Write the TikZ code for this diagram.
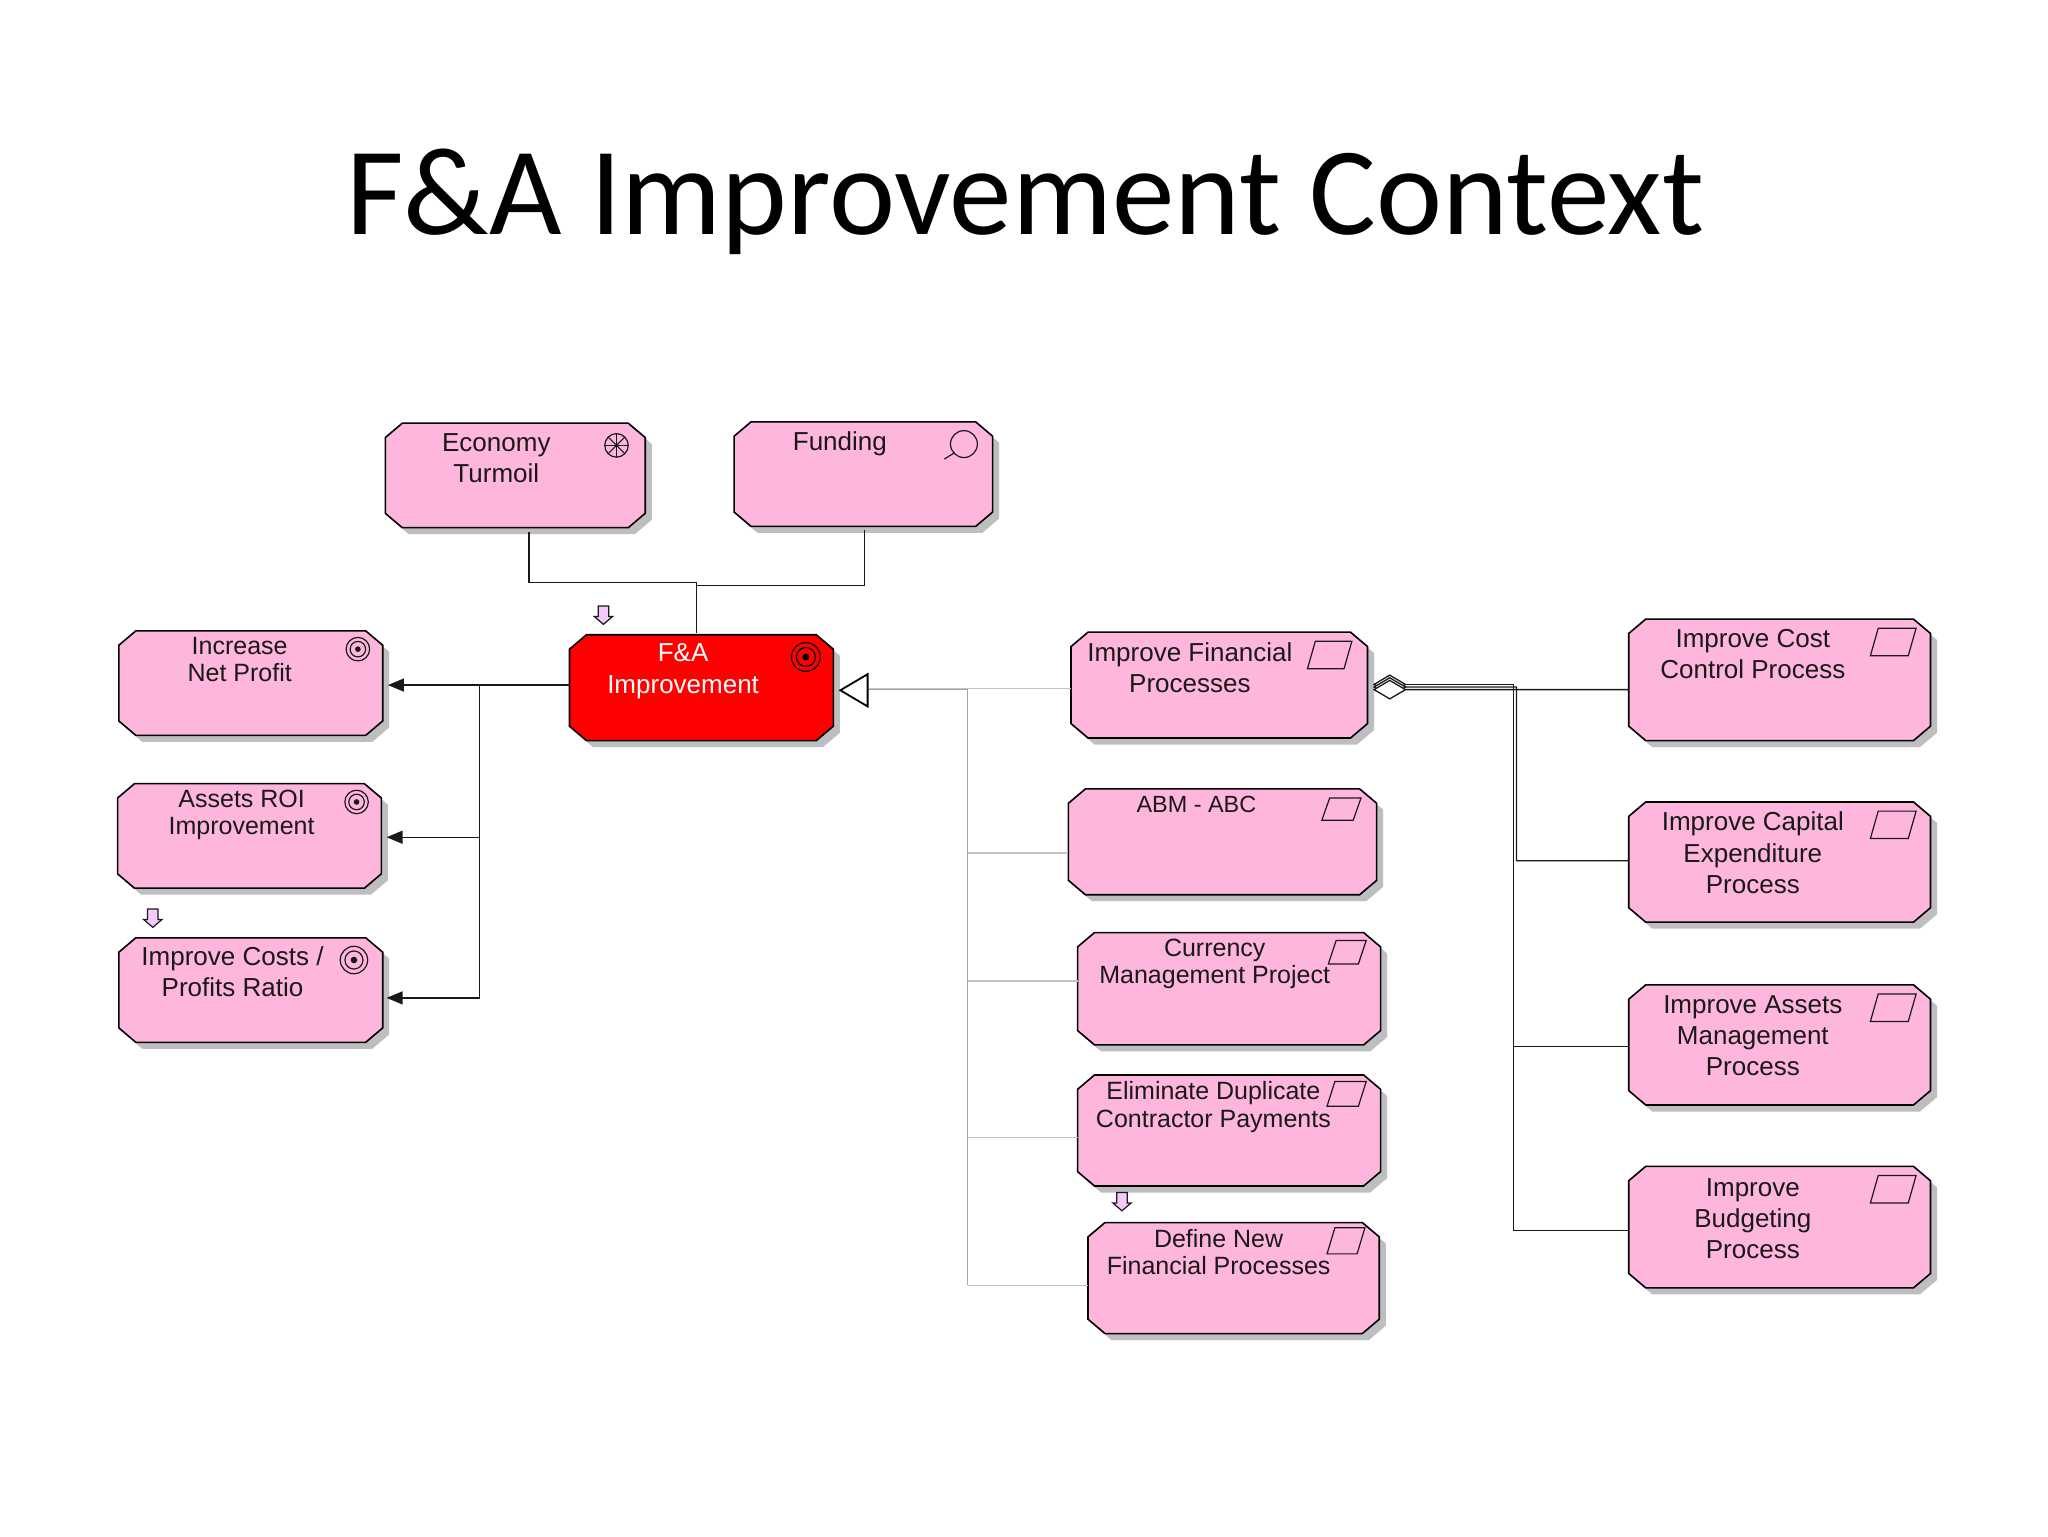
\documentclass[tikz,border=0pt]{standalone}
\usepackage{fontspec}
\setmainfont{Liberation Sans}
\newfontfamily\titlefont{Carlito}
\usetikzlibrary{arrows.meta,calc}
\definecolor{boxpink}{RGB}{254,182,220}
\definecolor{shadowgray}{RGB}{190,190,192}
\definecolor{lilac}{RGB}{244,200,248}
\definecolor{linkgray}{RGB}{165,165,165}
\definecolor{linklight}{RGB}{195,195,195}
\tikzset{
  actbox/.style={inner sep=0pt,outer sep=0pt},
  bigtxt/.style={align=center,inner sep=0pt,font=\fontsize{13pt}{15.67pt}\selectfont,text=black!90},
  smalltxt/.style={align=center,inner sep=0pt,font=\fontsize{12.5pt}{13.7pt}\selectfont,text=black!90},
  abmtxt/.style={align=center,inner sep=0pt,font=\fontsize{11.7pt}{13.7pt}\selectfont,text=black!90},
  conn/.style={draw=black!90,line width=0.65pt},
  graylink/.style={draw=linkgray,line width=0.6pt},
  lightlink/.style={draw=linklight,line width=0.6pt},
  icon/.style={draw=black!90,line width=0.6pt},
  sharp/.style={-{Stealth[length=8pt,width=6.5pt,inset=0pt]}},
  agg/.style={{Diamond[length=17pt,width=10pt,fill=white]}-},
  spec/.style={{Triangle[length=15pt,width=17.5pt,fill=white,color=black,line width=0.9pt]}-}
}
% chamfered outline with its shadow, plus a named node carrying the anchors
\newcommand{\octpath}[4]{({#1+13},#2)--({#3-13},#2)--(#3,{#2+11})--(#3,{#4-11})--({#3-13},#4)--({#1+13},#4)--(#1,{#4-11})--(#1,{#2+11})--cycle}
\newcommand{\abox}[6]{%
  \fill[shadowgray] \octpath{#2+5}{#3+5}{#4+5}{#5+5};
  \draw[fill=#6,draw=black,line width=0.8pt,line join=miter] \octpath{#2}{#3}{#4}{#5};
  \node[actbox,minimum width={(#4-#2)*0.65306pt},minimum height={(#5-#3)*0.65306pt}] (#1) at ({(#2+#4)/2},{(#3+#5)/2}) {};}
\newcommand{\goalmark}[4][black!90]{\draw[icon,draw=#1] (#2,#3) circle[radius=#4] (#2,#3) circle[radius={0.66*#4}];\fill[#1] (#2,#3) circle[radius={0.24*#4}];}
\newcommand{\workmark}[4]{\draw[icon,fill=none,line join=miter] (#1,#4)--({#1+6},#3)--(#2,#3)--({#2-6},#4)--cycle;}
\newcommand{\downmark}[2]{\draw[icon,fill=lilac,line join=miter] ({#1-4},{#2-7})--({#1+4},{#2-7})--({#1+4},{#2+1})--({#1+7},{#2+1})--(#1,{#2+7})--({#1-7},{#2+1})--({#1-4},{#2+1})--cycle;}
\begin{document}
\begin{tikzpicture}[x=0.65306pt,y=-0.65306pt]
\useasboundingbox (0,0) rectangle (1568,1176);
\fill[white] (0,0) rectangle (1568,1176);
\node[inner sep=0pt,font=\fontsize{62.6pt}{70pt}\selectfont\titlefont] (title) at (785,154.5) {F\&A Improvement Context};

% boxes
\abox{econ}{295}{324}{494}{404}{boxpink}
\abox{fund}{562}{323}{760}{403}{boxpink}
\abox{fa}{436}{486}{638}{567}{red}
\abox{incr}{91}{483}{293}{563}{boxpink}
\abox{roi}{90}{600}{292}{680}{boxpink}
\abox{costs}{91}{718}{293}{798}{boxpink}
\abox{fin}{820}{484}{1047}{565}{boxpink}
\abox{abm}{818}{604}{1054}{685}{boxpink}
\abox{curr}{825}{714}{1057}{800}{boxpink}
\abox{elim}{825}{823}{1057}{908}{boxpink}
\abox{defn}{833}{936}{1056}{1021}{boxpink}
\abox{ccost}{1247}{474}{1478}{567}{boxpink}
\abox{capx}{1247}{614}{1478}{706}{boxpink}
\abox{asset}{1247}{754}{1478}{846}{boxpink}
\abox{budg}{1247}{893}{1478}{986}{boxpink}

% labels
\node[bigtxt] (econT) at (380,351) {Economy\\Turmoil};
\node[bigtxt] (fundT) at (643,339.5) {Funding};
\node[bigtxt,text=white] (faT) at (523,514) {F\&A\\Improvement};
\node[smalltxt] (incrT) at (183.5,505) {Increase\\Net Profit};
\node[smalltxt] (roiT) at (185,624) {Assets ROI\\Improvement};
\node[bigtxt] (costsT) at (178,744) {Improve Costs /\\Profits Ratio};
\node[bigtxt] (finT) at (911,511) {Improve Financial\\Processes};
\node[abmtxt] (abmT) at (916,616) {ABM - ABC};
\node[smalltxt] (currT) at (930,738) {Currency\\Management Project};
\node[smalltxt] (elimT) at (929,847.5) {Eliminate Duplicate\\Contractor Payments};
\node[smalltxt] (defnT) at (933,958.5) {Define New\\Financial Processes};
\node[bigtxt] (ccostT) at (1342,501) {Improve Cost\\Control Process};
\node[bigtxt] (capxT) at (1342,653) {Improve Capital\\Expenditure\\Process};
\node[bigtxt] (assetT) at (1342,793) {Improve Assets\\Management\\Process};
\node[bigtxt] (budgT) at (1342,933) {Improve\\Budgeting\\Process};

% icons
\goalmark[black]{617}{503}{11}
\goalmark{274}{497}{9}
\goalmark{273}{614}{9}
\goalmark{271}{735}{10.5}
\draw[icon] (472,341) circle[radius=9];
\foreach \a in {0,45,90,135}{\draw[icon] ($(472,341)+(\a:9)$) -- ($(472,341)+(\a+180:9)$);}
\draw[icon] (738,340) circle[radius=10.3];
\draw[icon] (731,346.5) -- (723,351.5);
\workmark{1001}{1035}{491}{512}
\workmark{1012}{1042}{611}{628}
\workmark{1017}{1046}{720}{738}
\workmark{1016}{1046}{828}{847}
\workmark{1016}{1045}{940}{960}
\workmark{1432}{1467}{481}{502}
\workmark{1432}{1467}{621}{642}
\workmark{1432}{1467}{761}{782}
\workmark{1432}{1467}{900}{921}
\downmark{462}{471}
\downmark{117}{703}
\downmark{859}{920}

% connectors: drivers to goal
\draw[conn] ($(econ.south)+(10.5,3)$) |- (533,446) -- ($(fa.north)+(-4,-1)$);
\draw[conn] ($(fund.south)+(1,3)$) |- (533,448) -- ($(fa.north)+(-4,-1)$);

% connectors: goal to sub-goals
\draw[conn,line width=1.2pt] ($(fa.west)+(0,-2)$) -- (367,524.5);
\draw[conn,sharp] ($(fa.west)+(0,-2)$) -- ($(incr.east)+(4,1.5)$);
\draw[conn,sharp] ($(fa.west)+(0,-2)$) -- (367,524.5) |- ($(roi.east)+(4,1)$);
\draw[conn,sharp] ($(fa.west)+(0,-2)$) -- (367,524.5) |- ($(costs.east)+(3,6)$);

% connectors: specialisation
\draw[lightlink] (665,527) -- (fin.west |- 0,527);
\draw[graylink] (665,528) -- (741,528) -- (741,984);
\draw[lightlink] (741,653) -- (abm.west |- 0,653);
\draw[lightlink] (741,751) -- (curr.west |- 0,751);
\draw[lightlink] (741,871) -- (elim.west |- 0,871);
\draw[lightlink] (741,984) -- (defn.west |- 0,984);
\draw[spec,draw=linkgray,line width=0.6pt] ($(fa.east)+(4,2)$) -- ($(fa.east)+(27,2)$);

% connectors: aggregation
\draw[conn] (1159,524) -- (1159,942) -- (budg.west |- 0,942);
\draw[conn,agg] ($(fin.east)+(4,-0.5)$) -- (1159,524) |- (asset.west |- 0,801);
\draw[conn,agg] ($(fin.east)+(4,1.5)$) -- (1161,526) |- (capx.west |- 0,659);
\draw[conn,agg] ($(fin.east)+(4,3.5)$) -- (ccost.west |- 0,528);
\end{tikzpicture}
\end{document}
